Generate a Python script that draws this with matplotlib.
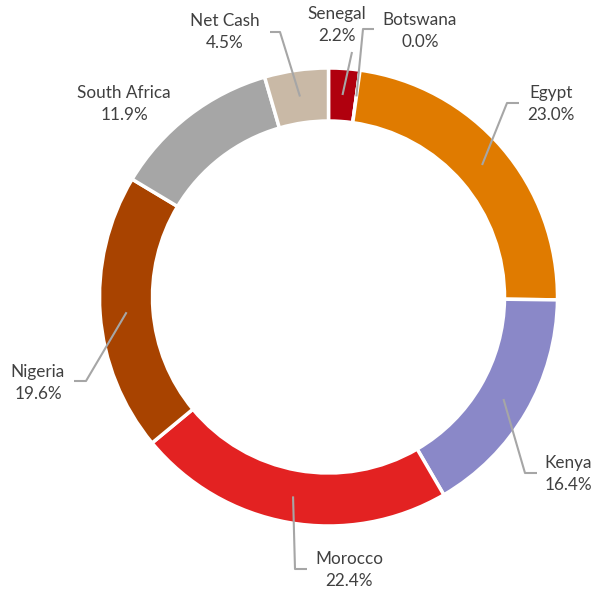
import matplotlib
matplotlib.use("Agg")
import matplotlib.pyplot as plt
import numpy as np

# ---- data ----
categories = ["Senegal", "Botswana", "Egypt", "Kenya", "Morocco", "Nigeria", "South Africa", "Net Cash"]
values = [2.2, 0.0, 23.0, 16.4, 22.4, 19.6, 11.9, 4.5]
colors = ["#B0000E", "#7F7F7F", "#E07B00", "#8A88C8", "#E32222", "#A84300", "#A6A6A6", "#C9B9A6"]

W, H = 592, 591
CX, CY = 328.5, 297.0      # centre in pixel coords (y down)
R_OUT, WIDTH = 229.0, 53.0

def P(x, y):  # pixel (y down) -> data (y up)
    return x, H - y

# label layout: text centre, elbow, hook end (pixels, y down)
layout = {
    "Senegal":      dict(text=(337, 25),  elbow=(352, 52),  hook=None),
    "Botswana":     dict(text=(420, 31),  elbow=(363, 29),  hook=(374, 29)),
    "Egypt":        dict(text=(551, 104), elbow=(507, 103), hook=(519, 103)),
    "Kenya":        dict(text=(568, 474), elbow=(525, 473), hook=(537, 473)),
    "Morocco":      dict(text=(349, 570), elbow=(295, 569), hook=(307, 569)),
    "Nigeria":      dict(text=(38, 383),  elbow=(86, 381),  hook=(74, 381)),
    "South Africa": dict(text=(124, 104), elbow=None,       hook=None),
    "Net Cash":     dict(text=(225, 32),  elbow=(280, 32),  hook=(270, 32)),
}

plt.rcParams["font.family"] = ["Lato", "DejaVu Sans"]
fig = plt.figure(figsize=(W / 100, H / 100), dpi=100)
ax = fig.add_axes([0, 0, 1, 1])

cx, cy = P(CX, CY)
ax.pie(values, colors=colors, startangle=90, counterclock=False,
       radius=R_OUT, center=(cx, cy), frame=True,
       wedgeprops=dict(width=WIDTH, edgecolor="white", linewidth=2.5))
ax.set_xlim(0, W)
ax.set_ylim(0, H)
ax.set_aspect("equal")
ax.axis("off")

total = sum(values)
cum = 0.0
r_mid = R_OUT - WIDTH / 2
line_col = "#A6A6A6"
for cat, v in zip(categories, values):
    mid = (cum + v / 2) / total
    cum += v
    ang = np.deg2rad(90 - 360 * mid)
    sx, sy = cx + r_mid * np.cos(ang), cy + r_mid * np.sin(ang)
    lay = layout[cat]
    if lay["elbow"] is not None:
        pts = [(sx, sy), P(*lay["elbow"])]
        if lay["hook"] is not None:
            pts.append(P(*lay["hook"]))
        xs, ys = zip(*pts)
        ax.plot(xs, ys, color=line_col, lw=1.5, solid_capstyle="butt", zorder=3)
    tx, ty = P(*lay["text"])
    ax.text(tx, ty, f"{cat}\n{v:.1f}%", ha="center", va="center",
            fontsize=12.3, color="#404040", linespacing=1.4, zorder=4)

fig.savefig("out.png", dpi=100)
